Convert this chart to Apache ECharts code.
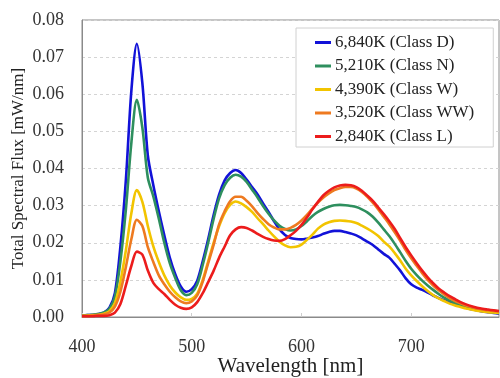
<!DOCTYPE html>
<html>
<head>
<meta charset="utf-8">
<script src="https://cdn.jsdelivr.net/npm/echarts@6/dist/echarts.min.js"></script>
<style>html,body{margin:0;padding:0;background:#fff;}#chart{width:500px;height:378px;}</style>
</head>
<body>
<div id="chart"></div>
<script>
const wavelengths = [400,405,410,415,420,425,430,435,440,445,450,455,460,465,470,475,480,485,490,495,500,505,510,515,520,525,530,535,540,545,550,555,560,565,570,575,580,585,590,595,600,605,610,615,620,625,630,635,640,645,650,655,660,665,670,675,680,685,690,695,700,705,710,715,720,725,730,735,740,745,750,755,760,765,770,775,780];

const classD = [0.0004,0.0005,0.0006,0.0008,0.0012,0.0025,0.0065,0.019,0.037,0.061,0.0736,0.063,0.0435,0.0355,0.0285,0.022,0.016,0.0115,0.0082,0.0068,0.0075,0.0098,0.015,0.021,0.0275,0.033,0.0368,0.0388,0.0396,0.0388,0.0370,0.0350,0.0330,0.0306,0.0283,0.0258,0.0236,0.0221,0.0213,0.0210,0.0209,0.0211,0.0214,0.0218,0.0224,0.0229,0.0232,0.0232,0.0229,0.0225,0.0220,0.0212,0.0203,0.0194,0.0182,0.0170,0.0160,0.0143,0.0125,0.0104,0.0088,0.0079,0.0073,0.0066,0.0058,0.0051,0.0045,0.0039,0.0034,0.0029,0.0025,0.0021,0.0018,0.0015,0.0013,0.0011,0.0009];

const classN = [0.0004,0.0005,0.0006,0.0008,0.0012,0.0022,0.0055,0.015,0.029,0.047,0.0585,0.051,0.0375,0.0325,0.0265,0.020,0.0145,0.0105,0.0072,0.0059,0.0065,0.0088,0.014,0.020,0.0265,0.032,0.0355,0.0375,0.0383,0.0378,0.0364,0.0343,0.0322,0.0299,0.0278,0.0260,0.0246,0.0237,0.0233,0.0236,0.0245,0.0258,0.0272,0.0283,0.0291,0.0297,0.0301,0.0302,0.0301,0.0299,0.0296,0.0290,0.0282,0.0270,0.0254,0.0236,0.0218,0.0197,0.0174,0.0151,0.0130,0.0113,0.0098,0.0085,0.0073,0.0062,0.0052,0.0044,0.0037,0.0031,0.0027,0.0023,0.0019,0.0016,0.0014,0.0012,0.0011];

const classW = [0.0003,0.0004,0.0005,0.0006,0.0009,0.0016,0.0038,0.0095,0.018,0.028,0.0342,0.031,0.0245,0.019,0.0148,0.0112,0.0085,0.0066,0.0053,0.0046,0.0049,0.0063,0.0100,0.0150,0.0200,0.0245,0.0280,0.0302,0.0311,0.0306,0.0296,0.0283,0.0266,0.0250,0.0233,0.0217,0.0203,0.0193,0.0188,0.0189,0.0195,0.0208,0.0222,0.0238,0.0249,0.0255,0.0259,0.0260,0.0259,0.0257,0.0253,0.0246,0.0238,0.0229,0.0218,0.0203,0.0190,0.0172,0.0152,0.0130,0.0112,0.0097,0.0083,0.0070,0.0059,0.0050,0.0043,0.0036,0.0031,0.0027,0.0023,0.0020,0.0017,0.0015,0.0013,0.0012,0.0011];

const classWW = [0.0003,0.0003,0.0004,0.0005,0.0007,0.0012,0.0028,0.0068,0.0135,0.021,0.0262,0.0245,0.0188,0.0148,0.0112,0.0088,0.0068,0.0053,0.0042,0.0037,0.0042,0.0058,0.0095,0.0145,0.0195,0.0250,0.0285,0.0312,0.0324,0.0324,0.0313,0.0298,0.0280,0.0264,0.0250,0.0241,0.0236,0.0236,0.0240,0.0248,0.0260,0.0275,0.0292,0.0308,0.0322,0.0333,0.0342,0.0347,0.0350,0.0350,0.0346,0.0337,0.0324,0.0308,0.0290,0.0270,0.0250,0.0228,0.0205,0.0180,0.0158,0.0138,0.0118,0.0100,0.0085,0.0072,0.0061,0.0051,0.0043,0.0037,0.0031,0.0027,0.0023,0.0020,0.0018,0.0016,0.0015];

const classL = [0.0002,0.0002,0.0002,0.0003,0.0003,0.0005,0.0012,0.0035,0.0085,0.0138,0.0176,0.0168,0.0125,0.0092,0.0075,0.0062,0.0046,0.0033,0.0025,0.0022,0.0026,0.0040,0.0064,0.0094,0.0125,0.0160,0.0190,0.0220,0.0236,0.0242,0.0240,0.0233,0.0224,0.0216,0.0210,0.0206,0.0205,0.0210,0.0220,0.0232,0.0248,0.0268,0.0290,0.0310,0.0328,0.0340,0.0349,0.0354,0.0356,0.0355,0.0350,0.0340,0.0327,0.0313,0.0295,0.0277,0.0258,0.0237,0.0212,0.0188,0.0166,0.0145,0.0125,0.0107,0.0091,0.0077,0.0066,0.0056,0.0048,0.0040,0.0034,0.0029,0.0025,0.0022,0.0020,0.0018,0.0016];

const seriesNames = ['6,840K (Class D)','5,210K (Class N)','4,390K (Class W)','3,520K (Class WW)','2,840K (Class L)'];
const seriesValues = [classD, classN, classW, classWW, classL];
const seriesColors = ['#1212d8','#2e8f5e','#f2c400','#ee7a20','#ec1c1c'];

const xTicks = [400, 500, 600, 700];
const yTicks = [0,0.01,0.02,0.03,0.04,0.05,0.06,0.07,0.08];

const FONT = '"Liberation Serif","DejaVu Serif",serif';
const chart = echarts.init(document.getElementById('chart'), null, {renderer:'canvas'});

chart.setOption({
  animation: false,
  backgroundColor: '#fff',
  grid: {left: 82, top: 20, right: 1, bottom: 61, containLabel: false, outerBoundsMode: 'none',
    show: true, borderColor: '#8a8a8a', borderWidth: 1},
  legend: {
    orient: 'vertical',
    left: 296, top: 28,
    data: seriesNames,
    icon: 'rect', itemWidth: 16, itemHeight: 3, itemGap: 6.5,
    padding: [6, 19, 2, 19],
    backgroundColor: '#fff',
    borderColor: '#d0d0d0', borderWidth: 1,
    textStyle: {fontFamily: FONT, fontSize: 17, color: '#222', padding: [0,0,0,-1]}
  },
  xAxis: {
    type: 'value', min: 400, max: 780, interval: 100,
    name: 'Wavelength [nm]', nameLocation: 'middle', nameGap: 39, nameMoveOverlap: false,
    nameTextStyle: {fontFamily: FONT, fontSize: 21, color: '#222'},
    axisLine: {show: true, lineStyle: {color: '#8a8a8a', width: 1}},
    axisTick: {show: true, inside: true, length: 4, lineStyle: {color: '#cfcfcf'}},
    axisLabel: {fontFamily: FONT, fontSize: 18, color: '#333', margin: 21, showMaxLabel: false,
      formatter: v => xTicks.includes(v) ? String(v) : ''},
    splitLine: {show: false}
  },
  yAxis: {
    type: 'value', min: 0, max: 0.08, interval: 0.01,
    name: 'Total Spectral Flux [mW/nm]', nameLocation: 'middle', nameGap: 55, nameMoveOverlap: false,
    nameTextStyle: {fontFamily: FONT, fontSize: 17, color: '#222'},
    axisLine: {show: true, lineStyle: {color: '#8a8a8a', width: 1}},
    axisTick: {show: false},
    axisLabel: {fontFamily: FONT, fontSize: 18, color: '#333', margin: 18,
      formatter: v => { const t = yTicks.find(k => Math.abs(k - v) < 1e-9); return t === undefined ? '' : t.toFixed(2); }},
    splitLine: {show: true, lineStyle: {color: '#d4d4d4', type: [3, 3], width: 1}}
  },
  series: seriesNames.map((n, i) => ({
    name: n, type: 'line', smooth: 0.3, showSymbol: false, symbol: 'none',
    lineStyle: {color: seriesColors[i], width: 2.6},
    itemStyle: {color: seriesColors[i]},
    data: wavelengths.map((w, j) => [w, seriesValues[i][j]])
  }))
});
</script>
</body>
</html>
